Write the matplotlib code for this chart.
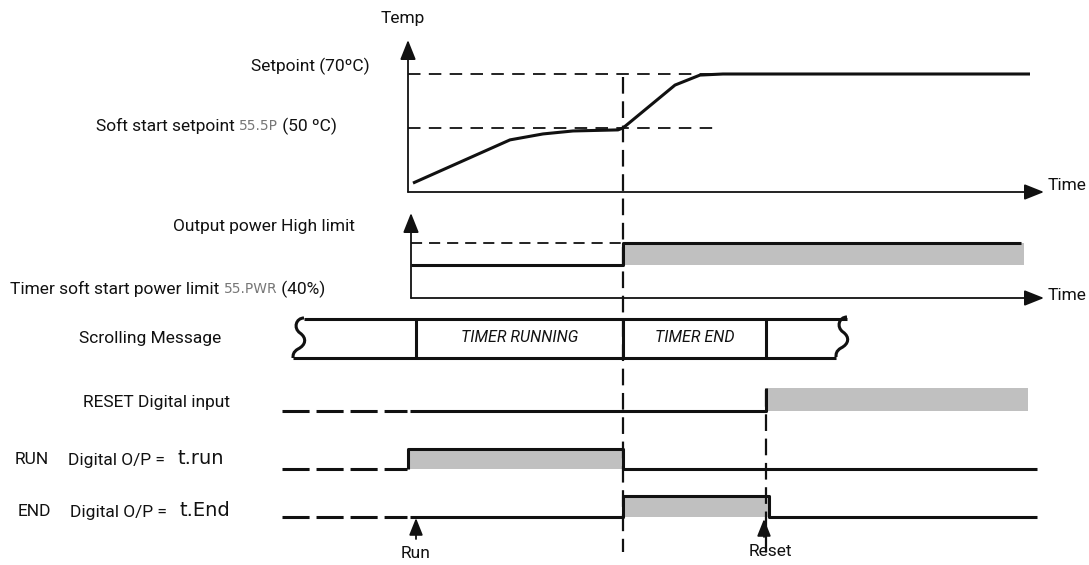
import numpy as np
import matplotlib
matplotlib.use('Agg')
import matplotlib.pyplot as plt
from matplotlib.path import Path
from matplotlib.patches import PathPatch

plt.rcParams['font.family'] = ['Roboto', 'DejaVu Sans']
plt.rcParams['lines.scale_dashes'] = False

W, H = 1089, 565
INK = '#111111'
GREY = '#c0c0c0'
SEG = '#777777'
FS = 12.5

# ---- data (time base in px along the diagram) ----
t_run = 408           # Run input
t_end = 623           # timer end / soft start finished
t_reset = 766         # Reset input

# temperature response
temp_time = [413, 510, 543, 573, 618, 623, 675, 700, 723, 1030]
temp_degc = [29.6, 45.6, 47.8, 48.9, 49.3, 50.0, 65.9, 69.6, 70.0, 70.0]
setpoint = 70
soft_setpoint = 50

# output power: SS.PWR (40%) until t_end, then high limit
power_time = [411, 623, 623, 1021]
power_state = [0, 0, 1, 1]

# scrolling message segments
msg_bounds = [416, 623, 766]
msg_text = ['TIMER RUNNING', 'TIMER END']

# digital signals as (time, state)
reset_time = [410, 766, 766]
reset_state = [0, 0, 1]
reset_fill = [766, 1028]
run_time = [408, 408, 623, 623, 1037]
run_state = [0, 1, 1, 0, 0]
end_time = [410, 623, 623, 769, 769, 1037]
end_state = [0, 0, 1, 1, 0, 0]

# ---- layout ----
temp_y = {70: 74, 50: 128}        # px rows of setpoints
def temp_px(t):
    k = (temp_y[50] - temp_y[70]) / (70 - 50)
    return temp_y[70] - (np.asarray(t) - 70) * k

rows = {  # low, high
    'power': (265, 243),
    'reset': (411, 388),
    'run': (469, 449),
    'end': (517, 496),
}

fig = plt.figure(figsize=(W / 100, H / 100), dpi=100)
ax = fig.add_axes([0, 0, 1, 1])
ax.set_xlim(0, W)
ax.set_ylim(H, 0)
ax.axis('off')

thick = dict(color=INK, lw=2.2, solid_joinstyle='round', solid_capstyle='butt', zorder=4)


def arrow(x0, y0, x1, y1, scale=15):
    ax.annotate('', xy=(x1, y1), xytext=(x0, y0),
                arrowprops=dict(arrowstyle='-|>,head_length=0.8,head_width=0.32',
                                lw=1.3, color=INK, shrinkA=0, shrinkB=0,
                                mutation_scale=scale), zorder=6)


def level(row, states):
    lo, hi = rows[row]
    return [hi if s else lo for s in states]


# temperature panel
arrow(408, 192, 408, 40)
arrow(408, 192, 1044, 192)
ax.plot([408, 735], [temp_y[setpoint]] * 2, color=INK, lw=1.3, dashes=(9, 6))
ax.plot([408, 720], [temp_y[soft_setpoint]] * 2, color=INK, lw=1.3, dashes=(9, 6))
ax.plot(temp_time, temp_px(temp_degc), **thick)

# power panel
arrow(411, 298, 411, 213)
arrow(411, 298, 1044, 298)
lo, hi = rows['power']
ax.plot([411, t_end], [hi, hi], color=INK, lw=1.3, dashes=(8, 5))
ax.fill_between([t_end, 1024], lo, hi, color=GREY, lw=0, zorder=2)
ax.plot(power_time, level('power', power_state), **thick)

# scrolling message
ax.plot([304, 847], [319, 319], **thick)
ax.plot([293, 836], [358, 358], **thick)
for xb in msg_bounds:
    ax.plot([xb, xb], [319, 358], **thick)
for i, s in enumerate(msg_text):
    ax.text((msg_bounds[i] + msg_bounds[i + 1]) / 2, 338, s, ha='center', va='center',
            fontsize=11.5, style='italic', color=INK)

brace = [(0, 0), (-8, 0), (-11, 10), (-4, 15), (3, 20), (2, 27), (-6, 31),
         (-11, 34), (-11, 37), (-11, 40)]
codes = [Path.MOVETO] + [Path.CURVE4] * 9
for bx, by in [(304, 318), (847, 317)]:
    verts = [(bx + dx, by + dy) for dx, dy in brace]
    ax.add_patch(PathPatch(Path(verts, codes), fill=False, lw=2.2, ec=INK, zorder=4))

# digital rows
for row in ['reset', 'run', 'end']:
    lo, hi = rows[row]
    ax.plot([282, 407], [lo, lo], color=INK, lw=2.2, dashes=(19.5, 5), solid_capstyle='butt')

lo, hi = rows['reset']
ax.fill_between(reset_fill, lo, hi, color=GREY, lw=0, zorder=2)
ax.plot(reset_time, level('reset', reset_state), **thick)

lo, hi = rows['run']
ax.fill_between([t_run, t_end], lo, hi, color=GREY, lw=0, zorder=2)
ax.plot(run_time, level('run', run_state), **thick)

lo, hi = rows['end']
ax.fill_between([t_end, 769], lo, hi, color=GREY, lw=0, zorder=2)
ax.plot(end_time, level('end', end_state), **thick)

# event markers
ax.plot([t_end, t_end], [77, 552], color=INK, lw=1.6, dashes=(12, 5.5), zorder=5)
ax.plot([t_reset, t_reset], [390, 553], color=INK, lw=1.6, dashes=(12, 5.5), zorder=5)
arrow(416, 539, 416, 518, scale=13)
arrow(764, 537, 764, 519, scale=13)
ax.text(416, 554, 'Run', ha='center', va='center', fontsize=FS, color=INK)
ax.text(770, 552, 'Reset', ha='center', va='center', fontsize=FS, color=INK)

# ---- labels ----
renderer = fig.canvas.get_renderer()


def chain(x, y, parts, ha='left'):
    arts = []
    for s, kw in parts:
        style = dict(va='center', color=INK, fontsize=FS)
        style.update(kw)
        arts.append(ax.text(0, y, s, **style))
    widths = [a.get_window_extent(renderer).width for a in arts]
    cur = x - sum(widths) if ha == 'right' else x
    for a, w in zip(arts, widths):
        a.set_x(cur)
        cur += w


seg = dict(family='DejaVu Sans', fontsize=10, color=SEG)
big = dict(family='DejaVu Sans', fontsize=14, va='center', color=INK)
lab = dict(va='center', fontsize=FS, color=INK)

ax.text(403, 18, 'Temp', ha='center', **lab)
ax.text(1086, 186, 'Time', ha='right', **lab)
ax.text(1086, 295, 'Time', ha='right', **lab)
ax.text(370, 66, 'Setpoint (70ºC)', ha='right', **lab)
chain(337, 126, [('Soft start setpoint ', {}), ('55.5P', seg), (' (50 ºC)', {})], ha='right')
ax.text(355, 227, 'Output power High limit', ha='right', **lab)
chain(10, 289, [('Timer soft start power limit ', {}), ('55.PWR', seg), (' (40%)', {})])
ax.text(150, 338, 'Scrolling Message', ha='center', **lab)
ax.text(230, 402, 'RESET Digital input', ha='right', **lab)
ax.text(15, 460, 'RUN', ha='left', **lab)
ax.text(68, 460, 'Digital O/P =', ha='left', **lab)
ax.text(178, 459, 't.run', ha='left', **big)
ax.text(18, 512, 'END', ha='left', **lab)
ax.text(70, 512, 'Digital O/P =', ha='left', **lab)
ax.text(179, 511, 't.End', ha='left', **big)

fig.savefig('out.png', dpi=100)
